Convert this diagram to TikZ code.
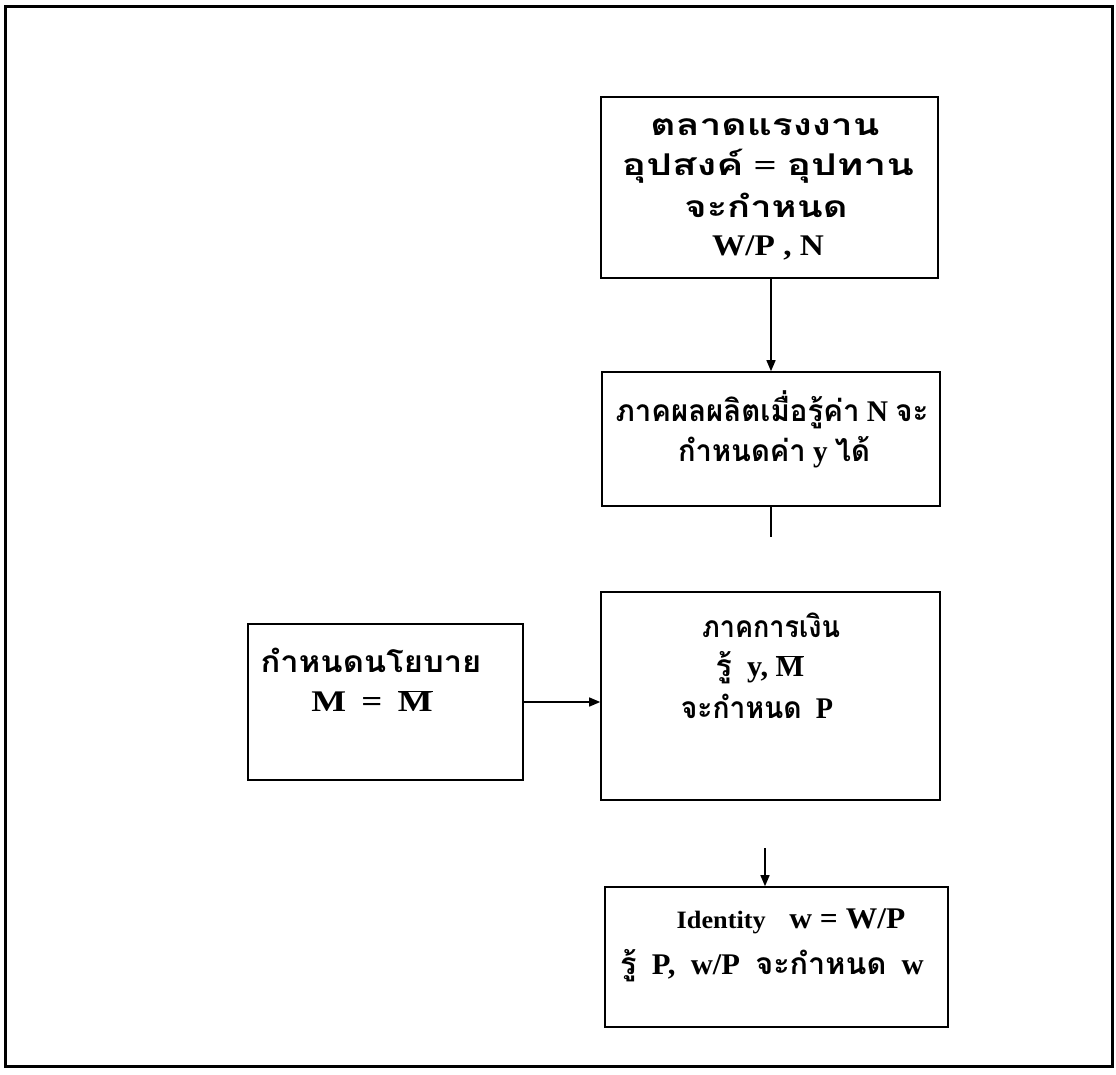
\documentclass[tikz,border=0pt]{standalone}
\usepackage{graphicx}
\usepackage{fontspec}
\setmainfont{Liberation Serif}
\newfontfamily\thai[Script=Thai]{Loma}
\usetikzlibrary{arrows.meta}
\tikzset{
  box/.style={draw, line width=1.6pt, inner sep=0pt},
  txt/.style={inner sep=0pt, font=\bfseries\fontsize{30}{34}\selectfont},
  conn/.style={line width=1.4pt},
  arr/.style={conn, -{Triangle[length=11pt,width=9pt]}},
}
\newcommand{\tht}[1]{{\thai #1}}
\newcommand{\hs}[2]{\scalebox{#1}[1]{#2}}
\newcommand{\Mbar}{$\overline{\hbox{\bfseries M}}$}
\begin{document}
\begin{tikzpicture}[x=1pt,y=-1pt]
\useasboundingbox (0,0) rectangle (1116,1074);
\draw[line width=3pt] (5,6) rectangle (1112,1066);
% boxes
\node[box, minimum width=337pt, minimum height=181pt] (b1) at (769.5,187.5) {};
\node[box, minimum width=338pt, minimum height=134pt] (b2) at (771,439) {};
\node[box, minimum width=339pt, minimum height=208pt] (b3) at (770.5,696) {};
\node[box, minimum width=275pt, minimum height=156pt] (m) at (385.5,702) {};
\node[box, minimum width=343pt, minimum height=140pt] (b4) at (776.5,957) {};
% texts box1
\node[txt] (t11) at (765,127) {\hs{1.30}{\tht{ตลาดแรงงาน}}};
\node[txt] (t12) at (768,166) {\hs{1.35}{\tht{อุปสงค์} = \tht{อุปทาน}}};
\node[txt] (t13) at (766,205) {\hs{1.27}{\tht{จะกำหนด}}};
\node[txt] (t14) at (768,248) {\hs{1.11}{W/P , N}};
% box2
\node[txt] (t21) at (772,410) {\hs{0.98}{\tht{ภาคผลผลิตเมื่อรู้ค่า} N \tht{จะ}}};
\node[txt] (t22) at (774,452) {\hs{0.97}{\tht{กำหนดค่า} y \tht{ได้}}};
% left box
\node[txt] (tm1) at (371,660) {\hs{1.09}{\tht{กำหนดนโยบาย}}};
\node[txt] (tm2) at (372,701) {\hs{1.23}{M \,=\, \Mbar}};
% box3
\node[txt] (t31) at (771,625) {\hs{0.9}{\tht{ภาคการเงิน}}};
\node[txt] (t32) at (760,668) {\hs{1.01}{\tht{รู้}\ \ y, \Mbar}};
\node[txt] (t33) at (757,706) {\hs{0.94}{\tht{จะกำหนด}\ \ P}};
% box4
\node[txt] (t41) at (791,921) {\hs{1.05}{{\fontsize{25}{28}\selectfont Identity}\ \ \ w = W/P}};
\node[txt] (t42) at (772,966) {\hs{1.02}{\tht{รู้}\ \ P,\ \ w/P\ \ \tht{จะกำหนด}\ \ w}};
% connectors
\draw[arr] (b1.south -| 771,0) -- (b2.north -| 771,0);
\coordinate (e2) at (771,537);
\draw[conn] (b2.south -| e2) -- (e2);
\draw[arr] (m.east) -- (b3.west |- m.east);
\coordinate (s4) at (765,848);
\draw[arr] (s4) -- (b4.north -| s4);
\end{tikzpicture}
\end{document}
